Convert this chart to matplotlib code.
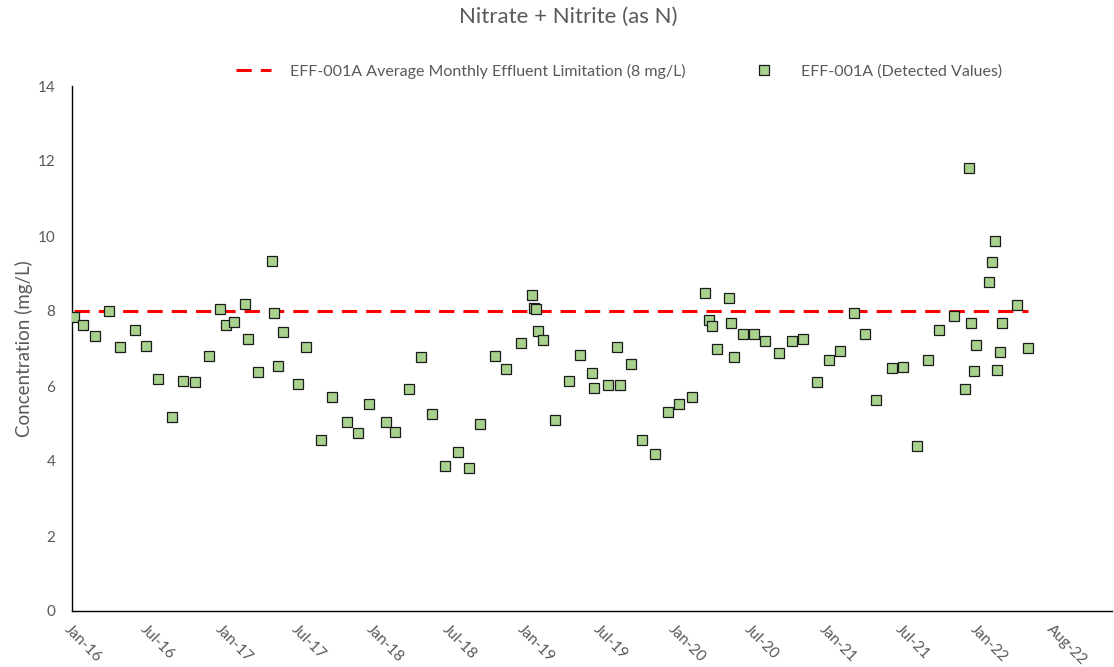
import matplotlib
matplotlib.use("Agg")
import matplotlib.pyplot as plt
import matplotlib.dates as mdates
import numpy as np
import datetime as dt

# ---- data ----
sample_dates = [
    "2016-01-07", "2016-01-29", "2016-02-27", "2016-04-01", "2016-04-28", "2016-06-03",
    "2016-07-01", "2016-07-30", "2016-09-02", "2016-09-30", "2016-10-28", "2016-12-02",
    "2016-12-29", "2017-01-12", "2017-02-02", "2017-03-01", "2017-03-08", "2017-04-01",
    "2017-05-04", "2017-05-11", "2017-05-19", "2017-06-01", "2017-07-07", "2017-07-28",
    "2017-09-02", "2017-09-29", "2017-11-04", "2017-12-01", "2017-12-29", "2018-02-09",
    "2018-03-02", "2018-04-06", "2018-05-04", "2018-06-01", "2018-07-04", "2018-08-03",
    "2018-08-30", "2018-09-26", "2018-11-02", "2018-11-29", "2019-01-04", "2019-02-02",
    "2019-02-06", "2019-02-11", "2019-02-15", "2019-02-27", "2019-03-29", "2019-05-02",
    "2019-05-30", "2019-06-27", "2019-07-04", "2019-08-07", "2019-08-28", "2019-09-05",
    "2019-10-02", "2019-10-29", "2019-11-29", "2020-01-01", "2020-01-28", "2020-02-28",
    "2020-04-01", "2020-04-10", "2020-04-16", "2020-04-30", "2020-05-29", "2020-06-03",
    "2020-06-09", "2020-07-01", "2020-07-30", "2020-08-26", "2020-09-29", "2020-10-29",
    "2020-11-25", "2020-12-31", "2021-01-28", "2021-02-24", "2021-04-01", "2021-04-28",
    "2021-05-25", "2021-07-01", "2021-07-28", "2021-09-02", "2021-09-29", "2021-10-26",
    "2021-12-01", "2021-12-29", "2022-01-06", "2022-01-12", "2022-01-19", "2022-01-25",
    "2022-02-24", "2022-03-04", "2022-03-12", "2022-03-16", "2022-03-23", "2022-03-29",
    "2022-05-04", "2022-06-01",
]
detected_values = [
    7.83, 7.62, 7.33, 7.99, 7.05, 7.49,
    7.07, 6.19, 5.17, 6.13, 6.11, 6.79,
    8.05, 7.62, 7.71, 8.19, 7.25, 6.37,
    9.34, 7.96, 6.54, 7.44, 6.06, 7.05,
    4.55, 5.70, 5.05, 4.74, 5.51, 5.05,
    4.78, 5.92, 6.77, 5.26, 3.88, 4.23,
    3.81, 5.00, 6.79, 6.45, 7.15, 8.43,
    8.09, 8.06, 7.48, 7.24, 5.10, 6.13,
    6.84, 6.34, 5.95, 6.02, 7.05, 6.02,
    6.59, 4.55, 4.18, 5.31, 5.51, 5.70,
    8.47, 7.76, 7.60, 7.00, 8.36, 7.69,
    6.77, 7.40, 7.40, 7.19, 6.89, 7.21,
    7.25, 6.11, 6.69, 6.93, 7.96, 7.40,
    5.63, 6.47, 6.50, 4.39, 6.69, 7.49,
    7.88, 5.92, 11.82, 7.69, 6.41, 7.09,
    8.77, 9.30, 9.87, 6.43, 6.92, 7.69,
    8.15, 7.02,
]
limit_value = 8
tick_start = "2016-01-01"
tick_step_days = 185
n_ticks = 14

title = "Nitrate + Nitrite (as N)"
ylabel = "Concentration (mg/L)"
limit_label = "EFF-001A Average Monthly Effluent Limitation (8 mg/L)"
data_label = "EFF-001A (Detected Values)"

# ---- plot ----
plt.rcParams['font.family'] = ['Lato', 'DejaVu Sans']
plt.rcParams['lines.scale_dashes'] = False
gray = '#595959'

dates = [dt.datetime.strptime(d, "%Y-%m-%d") for d in sample_dates]
t0 = dt.datetime.strptime(tick_start, "%Y-%m-%d")
ticks = [t0 + dt.timedelta(days=tick_step_days * i) for i in range(n_ticks)]

fig = plt.figure(figsize=(11.14, 6.67), dpi=100)
ax = fig.add_axes([72 / 1114, 1 - 611 / 667, (1112 - 72) / 1114, (611 - 86) / 667])

ax.plot(dates, [limit_value] * len(dates), color='#FF0000', lw=2.2,
        dashes=(11, 6.5), label=limit_label, zorder=2)
ax.plot(dates, detected_values, ls='none', marker='s', ms=6.5,
        mfc='#A9D18E', mec='#1a1a1a', mew=0.9, label=data_label, zorder=3)

ax.set_ylim(0, 14)
ax.set_yticks(np.arange(0, 15, 2))
ax.set_xlim(mdates.date2num(t0), mdates.date2num(t0) + 2548)
ax.set_xticks(ticks)
ax.xaxis.set_major_formatter(mdates.DateFormatter('%b-%y'))

for s in ['top', 'right']:
    ax.spines[s].set_visible(False)
for s in ['left', 'bottom']:
    ax.spines[s].set_color('black')
    ax.spines[s].set_linewidth(1.0)

ax.tick_params(axis='both', length=0, colors=gray, labelsize=11)
ax.tick_params(axis='y', pad=12)
ax.tick_params(axis='x', pad=8)
for lab in ax.get_xticklabels():
    lab.set_rotation(-45)
    lab.set_ha('left')
    lab.set_va('top')
    lab.set_rotation_mode('anchor')

ax.set_ylabel(ylabel, color=gray, fontsize=13.5, labelpad=3)
fig.text(568 / 1114, 1 - 17 / 667, title, ha='center', va='center', color=gray, fontsize=16)

leg = fig.legend(loc='center', bbox_to_anchor=(619 / 1114, 1 - 71 / 667), ncol=2, frameon=False,
                 fontsize=11.5, labelcolor=gray, handlelength=2.2, columnspacing=3.8,
                 handletextpad=1.2)

fig.savefig('out.png', dpi=100)
